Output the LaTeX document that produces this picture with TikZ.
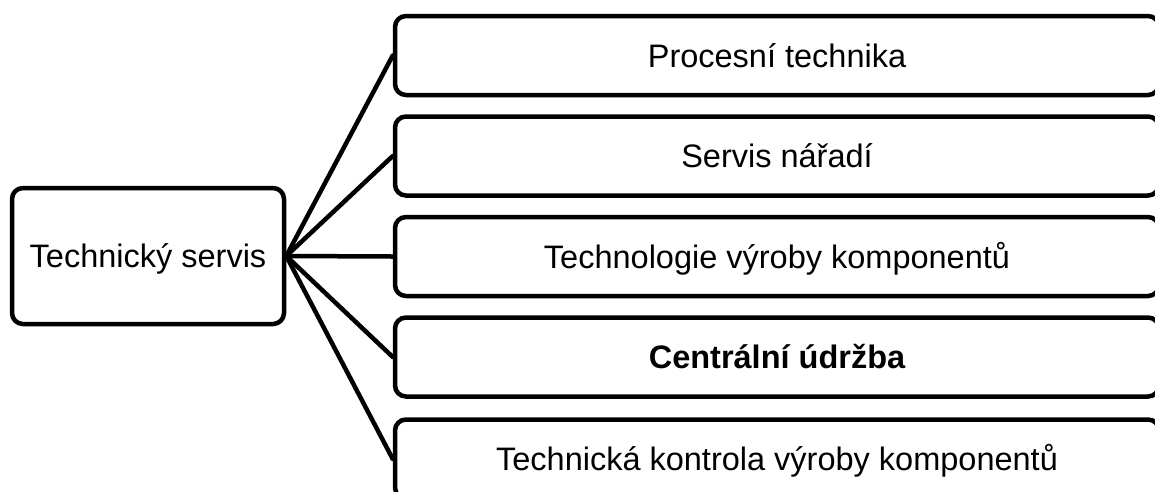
\documentclass[tikz,border=0pt]{standalone}
\usepackage{fontspec}
\setmainfont{Liberation Sans}
\begin{document}
\begin{tikzpicture}[x=1pt,y=-1pt,
  box/.style={draw=black, line width=4.5pt, rounded corners=11pt, inner sep=0pt,
    align=center, font=\fontsize{32.5}{38}\selectfont, text height=23.3pt, text depth=0pt},
  rootbox/.style={box, minimum width=272pt, minimum height=136pt},
  leafbox/.style={box, minimum width=764pt, minimum height=79pt},
  link/.style={line width=4.5pt, line cap=round}]
\useasboundingbox (0,0) rectangle (1155,491);
\clip (0,0) rectangle (1155,491);
\node[rootbox] (root) at (148,256) {Technický servis};
\node[leafbox] (a) at (777,55.5) {Procesní technika};
\node[leafbox] (b) at (777,156) {Servis nářadí};
\node[leafbox] (c) at (777,256.5) {Technologie výroby komponentů};
\node[leafbox] (d) at (777,357) {\bfseries Centrální údržba};
\node[leafbox] (e) at (777,459) {Technická kontrola výroby komponentů};
\foreach \t in {a,b,c,d,e}
  \draw[link] (root.east) -- (\t.west);
\end{tikzpicture}
\end{document}
